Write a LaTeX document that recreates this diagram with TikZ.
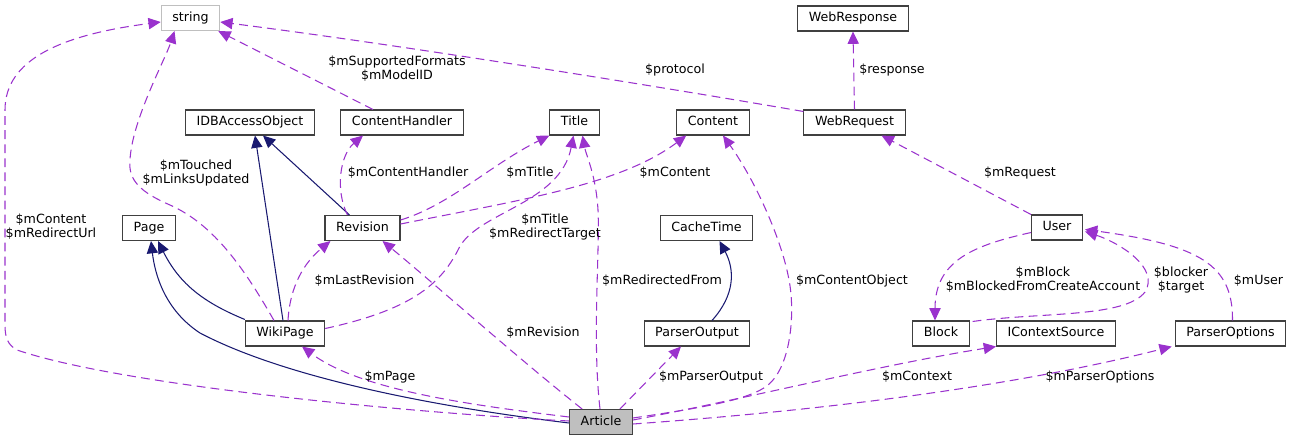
\documentclass[tikz,border=0pt]{standalone}
\usepackage{fontspec}
\setmainfont{DejaVu Sans}
\definecolor{dxEdge}{RGB}{154, 50, 205}
\definecolor{dxBase}{RGB}{25, 25, 112}
\definecolor{dxBorder}{RGB}{64, 64, 64}
\definecolor{dxGray}{RGB}{191, 191, 191}
\usetikzlibrary{arrows.meta, calc}
\tikzset{
  classbox/.style={rectangle, draw=#1, line width=0.6pt, fill=white, minimum height=0.5cm, inner xsep=6.3pt, inner ysep=0pt, text height=5.4pt, text depth=1.5pt, font=\fontsize{7.2}{8}\selectfont},
  classbox/.default=dxBorder,
  focusbox/.style={classbox, fill=dxGray},
  memberlbl/.style={align=center, inner sep=0pt, font=\fontsize{7.2}{8}\selectfont},
  usearrow/.style={-{Triangle[length=7pt, width=6.4pt]}, line width=0.6pt, dxEdge, dash pattern=on 5pt off 3pt},
  basearrow/.style={-{Triangle[length=7pt, width=6.4pt]}, line width=0.6pt, dxBase},
}
\begin{document}
\begin{tikzpicture}[x=0.02cm, y=-0.02cm]
  \useasboundingbox (0,0) rectangle (1292,441);

  \node[classbox=dxGray] (string) at (190.5,18) {string};
  \node[classbox] (webresponse) at (853,18.5) {WebResponse};
  \node[classbox] (idbaccess) at (250,122.5) {IDBAccessObject};
  \node[classbox] (contenthandler) at (402,122.5) {ContentHandler};
  \node[classbox] (title) at (574.5,122.5) {Title};
  \node[classbox] (content) at (713,122.5) {Content};
  \node[classbox] (webrequest) at (854.5,122.5) {WebRequest};
  \node[classbox] (page) at (149,228) {Page};
  \node[classbox] (revision) at (362.5,228) {Revision};
  \node[classbox] (cachetime) at (706.5,228) {CacheTime};
  \node[classbox] (user) at (1057,227.5) {User};
  \node[classbox] (wikipage) at (285,333.5) {WikiPage};
  \node[classbox] (parseroutput) at (697,333.5) {ParserOutput};
  \node[classbox] (block) at (941,333.5) {Block};
  \node[classbox] (icontext) at (1056,333.5) {IContextSource};
  \node[classbox] (parseroptions) at (1230.5,333.5) {ParserOptions};
  \node[focusbox] (article) at (601,422) {Article};

  % inheritance
  \draw[basearrow] ($(wikipage.north west)+(0,-1)$) .. controls (205,303) and (180,285) .. ($(page.south)+(9,0)$);
  \draw[basearrow] ($(article.west)+(0,1)$) .. controls (420,405) and (280,375) .. (200,333) .. controls (165,310) and (155,275) .. ($(page.south)+(2,0)$);
  \draw[basearrow] ($(wikipage.north)+(-2,0)$) -- ($(idbaccess.south)+(5,0)$);
  \draw[basearrow] ($(revision.north)+(-13,0)$) -- ($(idbaccess.south)+(13,0)$);
  \draw[basearrow] ($(parseroutput.north)+(15,0)$) .. controls (735,295) and (735,270) .. ($(cachetime.south)+(13,0)$);

  % members
  \draw[usearrow] ($(article.west)+(0,-1)$) .. controls (400,412) and (120,385) .. (17,350) .. controls (8,345) and (5,338) .. (5,325) -- (5,110) .. controls (5,60) and (60,35) .. ($(string.west)+(0,4)$);
  \draw[usearrow] ($(wikipage.north)+(-11,0)$) .. controls (245,270) and (215,225) .. (170,205) .. controls (140,192) and (128,180) .. (130,160) .. controls (132,120) and (165,60) .. ($(string.south)+(-16,0)$);
  \draw[usearrow] ($(contenthandler.north)+(-29,0)$) -- ($(string.south east)+(-2,0)$);
  \draw[usearrow] ($(webrequest.north west)+(0,2)$) .. controls (650,85) and (400,45) .. ($(string.east)+(0,4)$);
  \draw[usearrow] (webrequest.north) -- (webresponse.south);
  \draw[usearrow] (user.north west) -- ($(webrequest.south east)+(-24,0)$);
  \draw[usearrow] ($(revision.north)+(-15,0)$) .. controls (335,190) and (340,155) .. ($(contenthandler.south)+(-39,0)$);
  \draw[usearrow] ($(revision.east)+(0,-8)$) .. controls (450,205) and (490,165) .. (title.south west);
  \draw[usearrow] ($(revision.east)+(0,-4)$) .. controls (520,200) and (620,185) .. ($(content.south west)+(10,0)$);
  \draw[usearrow] ($(wikipage.north)+(3,0)$) .. controls (290,285) and (305,262) .. ($(revision.south west)+(6,0)$);
  \draw[usearrow] ($(wikipage.east)+(0,-5)$) .. controls (410,310) and (440,285) .. (458,250) .. controls (475,212) and (560,205) .. ($(title.south)+(-1,0)$);
  \draw[usearrow] ($(article.north)+(-1,0)$) .. controls (592,340) and (600,250) .. (598,210) .. controls (596,175) and (586,155) .. ($(title.south)+(8,0)$);
  \draw[usearrow] ($(article.north west)+(13,0)$) .. controls (520,360) and (430,280) .. ($(revision.south east)+(-18,0)$);
  \draw[usearrow] ($(article.west)+(0,-5)$) .. controls (470,405) and (360,390) .. ($(wikipage.south)+(17,0)$);
  \draw[usearrow] ($(article.north east)+(-13,0)$) -- ($(parseroutput.south)+(-16,0)$);
  \draw[usearrow] ($(article.east)+(0,-4)$) .. controls (700,408) and (750,400) .. (768,385) .. controls (792,365) and (795,310) .. (789,280) .. controls (782,240) and (755,180) .. ($(content.south)+(10,0)$);
  \draw[usearrow] ($(article.east)+(0,-2)$) .. controls (740,400) and (880,365) .. (icontext.south west);
  \draw[usearrow] ($(article.east)+(0,2)$) .. controls (800,412) and (1000,390) .. ($(parseroptions.south west)+(-3,0)$);
  \draw[usearrow] ($(user.west)+(0,5)$) .. controls (975,245) and (935,260) .. ($(block.north)+(-6,0)$);
  \draw[usearrow] ($(block.north east)+(3,1)$) .. controls (1040,312) and (1125,318) .. (1145,292) .. controls (1160,268) and (1120,243) .. ($(user.east)+(2,4)$);
  \draw[usearrow] ($(parseroptions.north)+(2,0)$) .. controls (1233,265) and (1200,245) .. ($(user.east)+(2,2)$);

  \node[memberlbl] (lContentUrl) at (51,227) {\$mContent\\\$mRedirectUrl};
  \node[memberlbl] (lTouched) at (196,173) {\$mTouched\\\$mLinksUpdated};
  \node[memberlbl] (lFormats) at (397,69) {\$mSupportedFormats\\\$mModelID};
  \node[memberlbl] (lProtocol) at (675,70) {\$protocol};
  \node[memberlbl] (lResponse) at (892,70) {\$response};
  \node[memberlbl] (lHandler) at (408,173) {\$mContentHandler};
  \node[memberlbl] (lTitle) at (530,173) {\$mTitle};
  \node[memberlbl] (lContent) at (675,173) {\$mContent};
  \node[memberlbl] (lRequest) at (1020,173) {\$mRequest};
  \node[memberlbl] (lRedirTarget) at (545,227) {\$mTitle\\\$mRedirectTarget};
  \node[memberlbl] (lLastRev) at (364.5,281) {\$mLastRevision};
  \node[memberlbl] (lRedirFrom) at (662,281) {\$mRedirectedFrom};
  \node[memberlbl] (lContentObj) at (852,281) {\$mContentObject};
  \node[memberlbl] (lBlock) at (1043,280) {\$mBlock\\\$mBlockedFromCreateAccount};
  \node[memberlbl] (lBlocker) at (1181,280) {\$blocker\\\$target};
  \node[memberlbl] (lUser) at (1258.5,281) {\$mUser};
  \node[memberlbl] (lRevision) at (543,333) {\$mRevision};
  \node[memberlbl] (lPage) at (390,377) {\$mPage};
  \node[memberlbl] (lParserOut) at (711,377) {\$mParserOutput};
  \node[memberlbl] (lContext) at (917,377) {\$mContext};
  \node[memberlbl] (lParserOpt) at (1100,377) {\$mParserOptions};
\end{tikzpicture}
\end{document}
